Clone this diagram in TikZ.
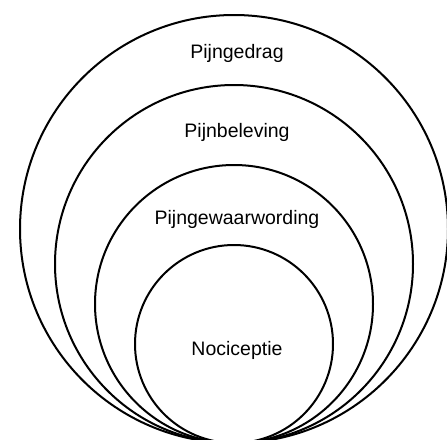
\documentclass[tikz,border=0pt]{standalone}
\usepackage{fontspec}
\setmainfont{Liberation Sans}
\usepackage{tikz}
\usetikzlibrary{positioning}

\begin{document}
\begin{tikzpicture}[x=1pt, y=-1pt,
  ring/.style={draw=black, line width=2pt},
  layer/.style={font=\fontsize{19.5}{23}\selectfont, inner sep=0pt}]
\useasboundingbox (0,0) rectangle (447,439);
% nested circles, all touching at the bottom
\draw[ring] (234,229) circle[radius=214];
\draw[ring] (234,264) circle[radius=179];
\draw[ring] (234,304) circle[radius=139];
\draw[ring] (234,344) circle[radius=99];
% labels
\node[layer] (gedrag) at (237,53) {Pijngedrag};
\node[layer] (beleving) at (237,132) {Pijnbeleving};
\node[layer] (gewaarwording) at (237,219) {Pijngewaarwording};
\node[layer] (nociceptie) at (237,350) {Nociceptie};
\end{tikzpicture}
\end{document}
